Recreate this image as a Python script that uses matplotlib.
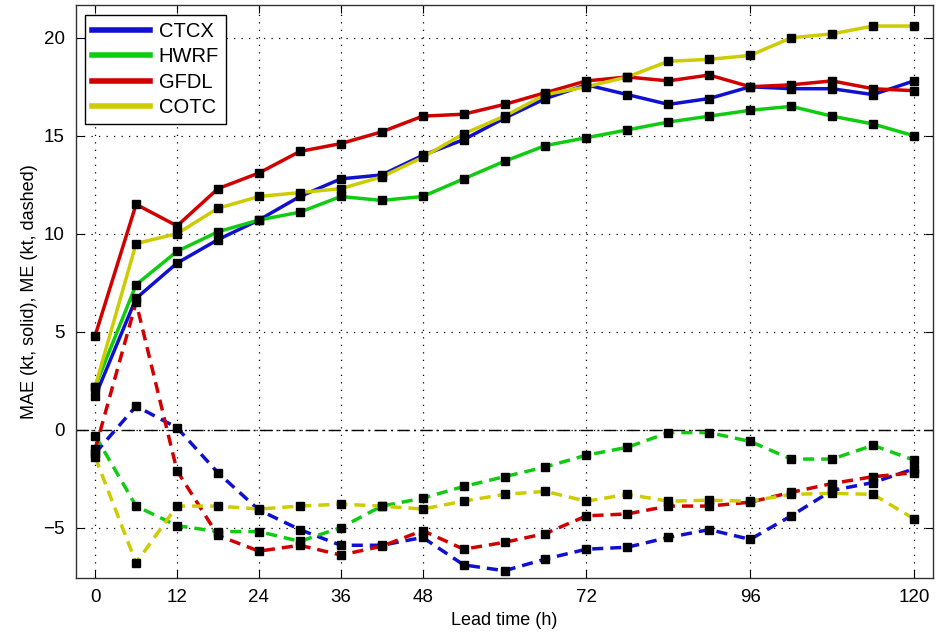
import numpy as np
import matplotlib
matplotlib.use('Agg')
import matplotlib.pyplot as plt

plt.rcParams['font.family'] = ['Liberation Sans', 'DejaVu Sans']

lead_time = np.arange(0, 121, 6)
xtick_values = [0, 12, 24, 36, 48, 72, 96, 120]
models = ['CTCX', 'HWRF', 'GFDL', 'COTC']
colors = ['#1010d0', '#10cc10', '#d00000', '#cccc00']

# MAE (solid)
mae_ctcx = [1.7, 6.7, 8.5, 9.7, 10.7, 11.9, 12.8, 13.0, 14.0, 14.8, 15.9, 16.9, 17.6, 17.1, 16.6, 16.9, 17.5, 17.4, 17.4, 17.1, 17.8]
mae_hwrf = [2.2, 7.4, 9.1, 10.1, 10.7, 11.1, 11.9, 11.7, 11.9, 12.8, 13.7, 14.5, 14.9, 15.3, 15.7, 16.0, 16.3, 16.5, 16.0, 15.6, 15.0]
mae_gfdl = [4.8, 11.5, 10.4, 12.3, 13.1, 14.2, 14.6, 15.2, 16.0, 16.1, 16.6, 17.2, 17.8, 18.0, 17.8, 18.1, 17.5, 17.6, 17.8, 17.4, 17.3]
mae_cotc = [2.2, 9.5, 10.0, 11.3, 11.9, 12.1, 12.3, 12.9, 13.9, 15.1, 16.0, 17.1, 17.5, 18.0, 18.8, 18.9, 19.1, 20.0, 20.2, 20.6, 20.6]

# ME (dashed)
me_ctcx = [-1.2, 1.2, 0.1, -2.2, -4.1, -5.1, -5.9, -5.9, -5.5, -6.9, -7.2, -6.6, -6.1, -6.0, -5.5, -5.1, -5.6, -4.4, -3.1, -2.7, -2.0]
me_hwrf = [-0.3, -3.9, -4.9, -5.2, -5.2, -5.7, -5.0, -3.9, -3.5, -2.9, -2.4, -1.9, -1.3, -0.9, -0.15, -0.15, -0.6, -1.5, -1.5, -0.8, -1.55]
me_gfdl = [-1.0, 6.5, -2.1, -5.4, -6.2, -5.9, -6.4, -5.95, -5.15, -6.1, -5.75, -5.3, -4.4, -4.3, -3.9, -3.9, -3.7, -3.2, -2.75, -2.4, -2.2]
me_cotc = [-1.4, -6.8, -3.9, -3.9, -4.05, -3.9, -3.8, -3.9, -4.05, -3.65, -3.3, -3.15, -3.65, -3.3, -3.65, -3.6, -3.65, -3.3, -3.25, -3.3, -4.55]

mae = [mae_ctcx, mae_hwrf, mae_gfdl, mae_cotc]
me = [me_ctcx, me_hwrf, me_gfdl, me_cotc]

fig = plt.figure(figsize=(9.4, 6.33), dpi=100)
ax = fig.add_axes([0.0809, 0.0869, 0.9117, 0.9051])

ax.axhline(0, color='black', lw=1.0, ls=(0, (9, 3, 1.5, 3)), zorder=1)

handles = []
for name, col, y_mae, y_me in zip(models, colors, mae, me):
    h, = ax.plot(lead_time, y_mae, color=col, lw=2.5, zorder=3, label=name)
    ax.plot(lead_time, y_me, color=col, lw=2.5, ls=(0, (3.2, 2.0)), zorder=3)
    handles.append(h)

for y_mae, y_me in zip(mae, me):
    ax.plot(lead_time, y_mae, ls='none', marker='s', ms=5.5, color='black', zorder=5)
    ax.plot(lead_time, y_me, ls='none', marker='s', ms=5.5, color='black', zorder=5)

ax.set_xlim(-2.8, 122.8)
ax.set_ylim(-7.57, 21.67)
ax.set_xticks(xtick_values)
ax.set_yticks([-5, 0, 5, 10, 15, 20])
ax.grid(True, color='black', lw=0.9, ls=(0, (1, 5)))
ax.tick_params(direction='in', top=True, right=True, length=6, labelsize=13.5, pad=8)
for s in ax.spines.values():
    s.set_linewidth(1.0)
    s.set_color('#333333')

ax.set_xlabel('Lead time (h)', fontsize=13)
ax.set_ylabel('MAE (kt, solid), ME (kt, dashed)', fontsize=13)

leg = ax.legend(handles=handles, loc='upper left', fontsize=14.5, handlelength=2.9,
                fancybox=False, edgecolor='black', framealpha=1, borderpad=0.35,
                labelspacing=0.32, handletextpad=0.4, borderaxespad=0,
                bbox_to_anchor=(0.0105, 0.983))
for line in leg.get_lines():
    line.set_linewidth(4)
leg.get_frame().set_linewidth(1.0)

fig.savefig('out.png', dpi=100)
